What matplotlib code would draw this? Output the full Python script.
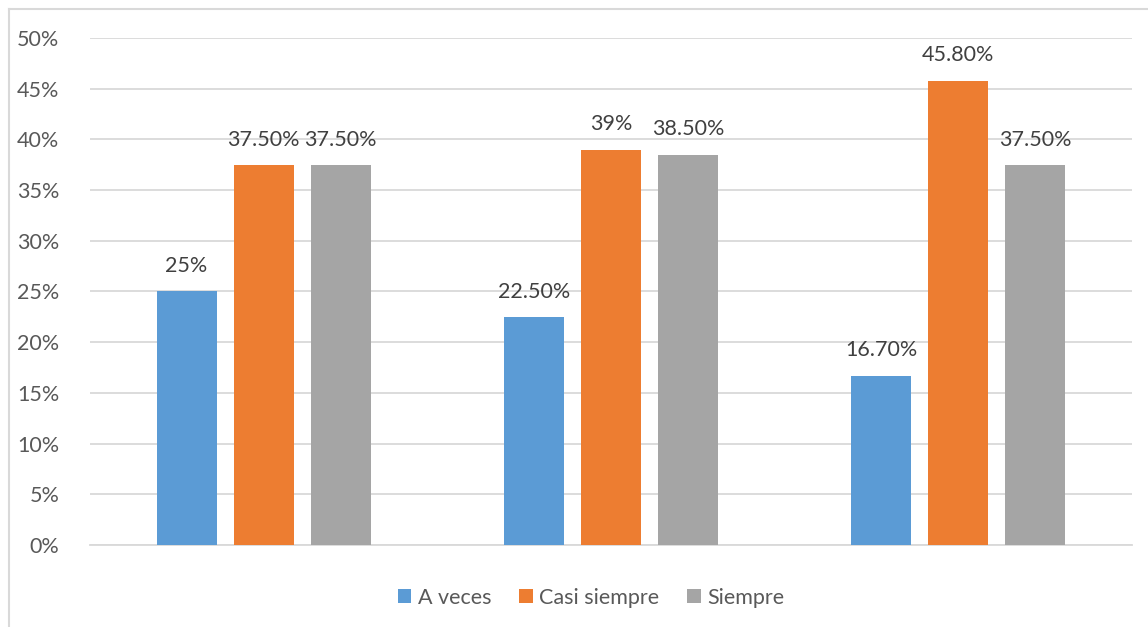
import matplotlib.pyplot as plt
from matplotlib.lines import Line2D
import numpy as np

categories = ["", "", ""]
series_names = ["A veces", "Casi siempre", "Siempre"]
a_veces = [25.0, 22.5, 16.7]
casi_siempre = [37.5, 39.0, 45.8]
siempre = [37.5, 38.5, 37.5]
labels = [["25%", "22.50%", "16.70%"],
          ["37.50%", "39%", "45.80%"],
          ["37.50%", "38.50%", "37.50%"]]
colors = ["#5B9BD5", "#ED7D31", "#A5A5A5"]

plt.rcParams['font.family'] = ['Lato', 'DejaVu Sans']
txt = "#595959"

fig = plt.figure(figsize=(11.48, 6.27), dpi=100)
ax = fig.add_axes([0.0784, 0.1308, 0.9076, 0.8086])

x = np.arange(len(categories))
width = 0.173
offsets = [-0.222, 0.0, 0.222]
for vals, lab, name, col, off in zip([a_veces, casi_siempre, siempre], labels,
                                     series_names, colors, offsets):
    bars = ax.bar(x + off, vals, width, color=col, label=name, zorder=3)
    for b, l in zip(bars, lab):
        ax.text(b.get_x() + b.get_width() / 2, b.get_height() + 1.5, l,
                ha='center', va='bottom', fontsize=15.5, color="#404040")

ax.set_xlim(-0.5, 2.5)
ax.set_ylim(0, 50)
ax.set_yticks(range(0, 51, 5))
ax.set_yticklabels([f"{v}%" for v in range(0, 51, 5)])
ax.set_xticks([])
ax.tick_params(axis='y', length=0, labelsize=15.5, labelcolor=txt, pad=22)
ax.grid(axis='y', color="#D9D9D9", linewidth=1.3, zorder=0)
for s in ["top", "right", "left"]:
    ax.spines[s].set_visible(False)
ax.spines["bottom"].set_color("#D9D9D9")
ax.spines["bottom"].set_linewidth(1.3)

leg = ax.legend(loc='upper center', bbox_to_anchor=(0.481, -0.046), ncol=3,
                frameon=False, fontsize=15.5, handlelength=0.62, handleheight=0.62,
                columnspacing=1.3, handletextpad=0.3)
for t in leg.get_texts():
    t.set_color(txt)

# outer chart border (left and top visible)
fig.add_artist(Line2D([9/1148, 9/1148], [0, 1 - 9/627], color="#D9D9D9",
                      linewidth=1.5, transform=fig.transFigure))
fig.add_artist(Line2D([9/1148, 1], [1 - 9/627, 1 - 9/627], color="#D9D9D9",
                      linewidth=1.5, transform=fig.transFigure))

fig.savefig("out.png", dpi=100)
